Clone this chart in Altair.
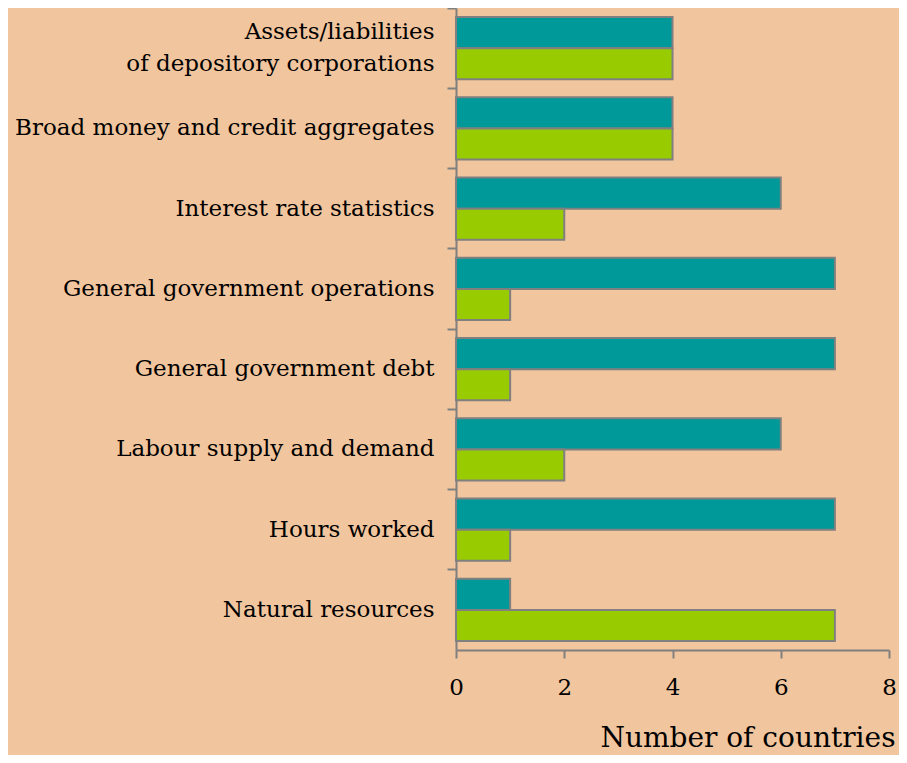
import altair as alt
import pandas as pd

categories = [
    "Assets/liabilities|of depository corporations",
    "Broad money and credit aggregates",
    "Interest rate statistics",
    "General government operations",
    "General government debt",
    "Labour supply and demand",
    "Hours worked",
    "Natural resources\u00a0",
]
series_names = ["Series A", "Series B"]
teal_values = [4, 4, 6, 7, 7, 6, 7, 1]
green_values = [4, 4, 2, 1, 1, 2, 1, 7]
x_ticks = [0, 2, 4, 6, 8]

rows = []
for c, a, b in zip(categories, teal_values, green_values):
    rows.append({"category": c, "series": series_names[0], "value": a})
    rows.append({"category": c, "series": series_names[1], "value": b})
df = pd.DataFrame(rows)

FONT = "DejaVu Serif"

chart = (
    alt.Chart(df)
    .mark_bar(stroke="#808080", strokeWidth=2, cornerRadius=0)
    .encode(
        y=alt.Y(
            "category:N",
            sort=categories,
            scale=alt.Scale(paddingInner=0, paddingOuter=0),
            axis=alt.Axis(
                title=None,
                bandPosition=0,
                labelExpr="split(datum.label, '|')",
                labelOffset={
                    "condition": {"test": "indexof(datum.value, '|') >= 0", "value": -16},
                    "value": 0,
                },
                labelFont=FONT,
                labelFontSize=23,
                labelColor="#000000",
                labelLineHeight=32,
                labelPadding=13,
                tickSize=9,
                tickColor="#808080",
                tickWidth=2,
                domainColor="#808080",
                domainWidth=2,
                labelLimit=500,
            ),
        ),
        yOffset=alt.YOffset(
            "series:N",
            sort=series_names,
            scale=alt.Scale(paddingInner=0, paddingOuter=0.29),
        ),
        x=alt.X(
            "value:Q",
            scale=alt.Scale(domain=[0, 8], nice=False),
            axis=alt.Axis(
                values=x_ticks,
                grid=False,
                title="Number of countries",
                titleFont=FONT,
                titleFontSize=28,
                titleFontWeight="normal",
                titleColor="#000000",
                titleAnchor="end",
                titleAlign="right",
                titleX=439,
                titleY=96,
                titleBaseline="alphabetic",
                labelFont=FONT,
                labelFontSize=23,
                labelColor="#000000",
                labelPadding=18,
                tickSize=8,
                tickColor="#808080",
                tickWidth=2,
                domainColor="#808080",
                domainWidth=2,
                labelFlush=False,
            ),
        ),
        color=alt.Color(
            "series:N",
            sort=series_names,
            scale=alt.Scale(domain=series_names, range=["#009999", "#99CC00"]),
            legend=None,
        ),
    )
    .properties(
        width=433,
        height=642,
        autosize=alt.AutoSizeParams(type="none"),
        padding={"left": 448, "top": 0, "right": 10, "bottom": 105},
        background="#F1C59D",
    )
    .configure_view(stroke=None)
)

chart.save("out.html", embed_options={"renderer": "svg", "actions": False})
